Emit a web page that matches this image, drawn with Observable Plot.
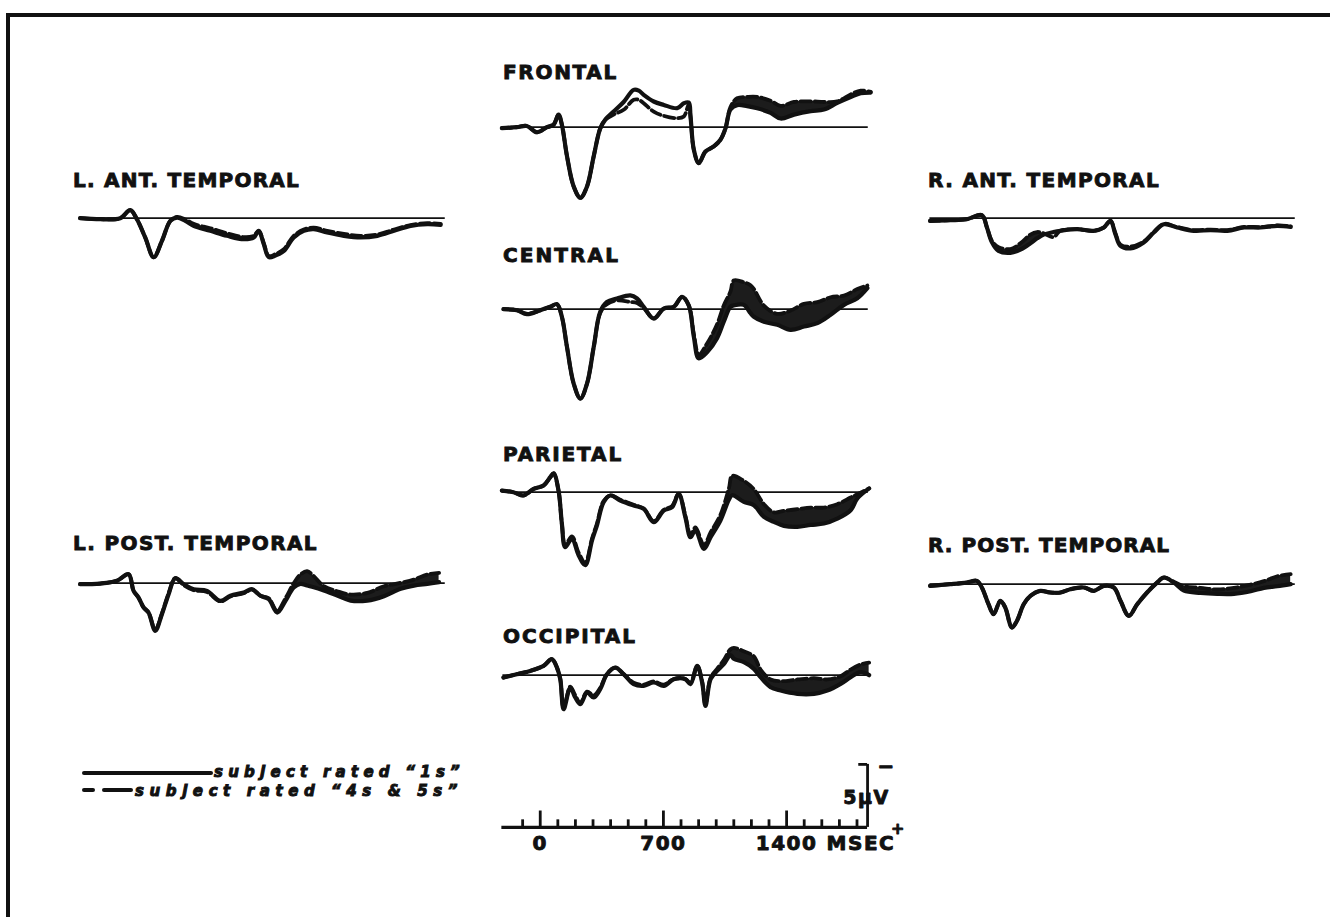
<!DOCTYPE html>
<html><head><meta charset="utf-8">
<script src="https://cdn.jsdelivr.net/npm/d3@7"></script>
<script src="https://cdn.jsdelivr.net/npm/@observablehq/plot@0.6"></script>
<style>
html,body{margin:0;padding:0;background:#fff;overflow:hidden;}
#root{position:relative;width:1330px;height:917px;overflow:hidden;background:#fff;}
.frame{position:absolute;left:6px;top:13px;width:1400px;height:1000px;border-top:4px solid #111;border-left:4px solid #111;}
.title{position:absolute;font-family:"DejaVu Sans",sans-serif;font-weight:bold;font-size:20px;line-height:20px;color:#111;white-space:nowrap;-webkit-text-stroke:0.9px #111;}
.legtext{position:absolute;font-family:"DejaVu Sans",sans-serif;font-weight:bold;font-style:italic;font-size:15px;line-height:14px;color:#111;white-space:nowrap;-webkit-text-stroke:1px #111;}
.bar{position:absolute;background:#111;height:4px;border-radius:2px;}
.panel{position:absolute;}
</style></head><body><div id="root"><div class="frame"></div></div>
<script>
// ---------- data (time in ms, amplitude in microvolts; negative plotted up) ----------
const frontalTime = [-218,-133,-76,-19,38,76,104,123,152,190,228,266,304,341,370,417,474,531,560,588,645,702,778,816,844,854,873,901,939,986,1024,1053,1081,1119,1176,1233,1309,1366,1442,1537,1612,1688,1764,1821,1878];
const frontalRated1 = [0.08,0,-0.1,0.4,0,-0.2,-1.0,-0.2,2.3,4.7,5.6,4.7,2.3,0.1,-0.6,-1.24,-2.0,-2.96,-2.9,-2.57,-2.04,-1.77,-1.51,-1.9,-1.96,-0.85,1.8,2.86,1.93,1.53,1.0,0.08,-1.4,-1.75,-1.67,-1.5,-1.14,-0.69,-1.0,-1.27,-1.4,-1.93,-2.4,-2.7,-2.75];
const frontalRated45 = [0.08,0,-0.1,0.4,0,-0.2,-1.0,-0.2,2.3,4.7,5.6,4.7,2.3,0.1,-0.6,-1.0,-1.38,-2.17,-2.17,-1.9,-1.24,-0.9,-0.71,-0.85,-1.8,-0.85,1.8,2.86,1.93,1.53,1.0,0.08,-1.6,-2.3,-2.4,-2.4,-2.1,-1.7,-2.0,-2.05,-2.0,-2.05,-2.6,-2.9,-2.8];

const centralTime = [-209,-133,-76,0,57,95,123,152,190,228,266,304,341,379,436,512,550,588,645,702,759,806,844,873,901,949,1005,1043,1081,1100,1157,1195,1214,1271,1347,1423,1499,1575,1650,1726,1802,1859];
const centralRated1 = [0,0.08,0.4,0.08,-0.19,-0.4,0.6,3.0,5.9,7.1,5.9,3.0,0.2,-0.58,-0.85,-1.1,-0.85,-0.19,0.74,-0.05,-0.19,-0.98,-0.3,2.2,3.9,3.4,2.3,1.0,-0.2,-0.3,-0.34,0.32,0.6,1.0,1.24,1.64,1.38,1.11,0.45,-0.34,-0.87,-1.67];
const centralRated45 = [0,0.08,0.35,0.1,-0.19,-0.4,0.6,3.0,5.9,7.1,5.9,3.0,0.3,-0.4,-0.7,-0.58,-0.5,-0.1,0.74,-0.05,-0.19,-0.98,-0.3,2.0,3.6,2.7,1.2,-0.3,-1.4,-2.28,-2.14,-1.9,-1.6,-0.29,0.37,0.1,-0.42,-0.56,-0.95,-1.08,-1.6,-1.88];

const parietalTime = [-218,-152,-95,-38,19,57,76,104,123,142,180,218,256,294,322,360,398,455,531,588,645,702,749,787,825,854,882,930,968,1024,1072,1091,1157,1214,1271,1328,1385,1461,1537,1612,1688,1764,1802,1869];
const parietalRated1 = [-0.13,0,0.26,-0.26,-0.53,-1.19,-1.5,-0.13,2.5,4.37,3.7,5.0,5.8,3.84,2.65,0.8,0.26,0.66,1.06,1.32,2.38,1.46,1.19,0.13,2.0,3.57,3.0,4.5,3.57,2.25,0.6,0.24,0.77,1.03,1.96,2.35,2.67,2.75,2.6,2.49,2.1,1.43,0.5,-0.3];
const parietalRated45 = [-0.13,0,0.26,-0.26,-0.53,-1.19,-1.5,-0.13,2.5,4.2,3.5,4.8,5.6,3.7,2.5,0.7,0.26,0.6,1.0,1.3,2.3,1.4,1.1,0.13,1.9,3.4,2.8,4.2,3.2,1.8,-0.3,-1.3,-0.9,-0.24,0.95,1.6,1.48,1.35,1.22,1.22,0.95,0.42,0.16,-0.3];

const occipitalTime = [-209,-133,-57,19,66,95,114,133,171,199,228,266,304,341,379,427,474,531,588,645,702,759,825,854,892,920,939,968,1005,1043,1081,1100,1157,1214,1252,1309,1366,1461,1556,1631,1707,1764,1821,1869];
const occipitalRated1 = [0.19,-0.08,-0.34,-0.74,-1.27,-0.6,0.32,2.7,0.98,1.77,2.3,1.38,1.77,1.1,-0.08,-0.6,-0.08,0.71,0.85,0.58,0.85,0.32,0.32,0.71,-0.74,0.58,2.43,0.32,-0.34,-0.87,-1.6,-1.3,-1.03,-0.5,0.16,0.95,1.22,1.48,1.48,1.22,0.69,0.16,-0.24,0.0];
const occipitalRated45 = [0.19,-0.08,-0.34,-0.74,-1.27,-0.6,0.32,2.6,0.9,1.6,2.2,1.3,1.6,1.0,-0.08,-0.6,-0.08,0.6,0.75,0.5,0.75,0.3,0.3,0.6,-0.74,0.5,2.3,0.2,-0.5,-1.2,-2.06,-2.17,-1.9,-1.5,-0.45,0.34,0.48,0.34,0.24,0.34,0.08,-0.45,-0.85,-1.0];

const lAntTime = [-211,-97,17,74,112,159,207,254,302,340,387,434,529,624,719,776,804,833,861,899,947,1003,1060,1117,1193,1288,1383,1478,1573,1667,1762,1838];
const lAntRated1 = [0,0.08,0,-0.64,0.08,1.53,3.1,1.8,0.21,-0.05,0.21,0.61,1.0,1.4,1.67,1.53,1.0,2.06,3.1,2.96,2.6,1.53,1.0,0.87,1.14,1.4,1.53,1.4,1.0,0.61,0.48,0.53];
const lAntRated45 = [0,0.08,0,-0.64,0.08,1.53,3.1,1.8,0.21,-0.1,0.1,0.45,0.8,1.2,1.5,1.4,1.0,2.0,3.0,2.85,2.45,1.4,0.9,0.75,1.0,1.25,1.4,1.3,0.9,0.55,0.4,0.45];

const lPostTime = [-211,-97,-2,64,93,121,150,178,216,254,292,330,378,434,510,586,643,719,766,814,861,909,956,1003,1041,1079,1117,1174,1250,1326,1421,1516,1611,1686,1762,1829];
const lPostRated1 = [0.08,0.03,-0.19,-0.71,0.61,1.14,1.93,2.33,3.78,2.46,0.87,-0.4,0.08,0.48,0.61,1.4,1.0,0.74,0.48,1.0,1.27,2.33,1.4,0.34,0.05,0.19,0.32,0.58,0.98,1.38,1.38,1.03,0.45,0.19,0.05,-0.08];
const lPostRated45 = [0.08,0.03,-0.19,-0.71,0.61,1.14,1.93,2.33,3.7,2.4,0.8,-0.4,0.15,0.55,0.7,1.45,1.05,0.8,0.5,1.0,1.2,2.2,1.2,0.0,-0.69,-0.95,-0.56,0.24,0.64,0.9,0.77,0.24,-0.03,-0.29,-0.69,-0.82];

const rAntTime = [-211,-97,-2,83,112,140,178,245,302,359,397,434,490,529,624,719,776,814,842,871,928,1003,1060,1117,1193,1288,1383,1478,1573,1667,1762,1838];
const rAntRated1 = [0.21,0.16,0.08,-0.24,0.74,1.9,2.6,2.75,2.5,2.0,1.6,1.3,1.1,1.0,0.87,1.0,0.74,0.21,1.27,2.2,2.4,1.93,1.14,0.48,0.74,1.0,0.95,1.0,0.74,0.74,0.61,0.69];
const rAntRated45 = [0.21,0.16,0.08,-0.24,0.74,1.8,2.3,2.45,2.0,1.3,1.1,1.2,1.5,1.0,0.87,1.0,0.74,0.21,1.2,2.1,2.25,1.85,1.1,0.45,0.7,0.95,0.9,0.95,0.7,0.7,0.58,0.65];

const rPostTime = [-211,-97,-2,55,83,121,150,188,216,254,283,321,359,415,472,529,586,662,719,776,833,871,918,966,1022,1079,1117,1174,1231,1326,1421,1516,1611,1686,1762,1838];
const rPostRated1 = [0.13,0,-0.13,-0.26,0.26,1.59,2.38,1.32,1.85,3.44,2.9,1.59,0.93,0.53,0.66,0.66,0.4,0.26,0.53,0.13,0.26,1.32,2.51,1.59,0.66,-0.13,-0.53,-0.13,0.5,0.69,0.77,0.77,0.56,0.29,0.16,0.0];
const rPostRated45 = [0.13,0,-0.13,-0.26,0.26,1.59,2.38,1.32,1.85,3.44,2.9,1.59,0.93,0.53,0.66,0.66,0.4,0.26,0.53,0.13,0.26,1.32,2.51,1.59,0.66,-0.13,-0.53,-0.2,0.16,0.29,0.42,0.29,0.03,-0.24,-0.63,-0.8];

// time scale
const scaleMinorTicks = [-100,100,200,300,400,500,600,800,900,1000,1100,1200,1300,1500,1600,1700,1800];
const scaleMajorTicks = [0,700,1400];
const scaleTickLabels = ["0","700","1400"];
const scaleUnit = "MSEC";
const calibUv = 5;
const calibLabel = "5\u00b5V";

const legendLabels = ["subject rated \u201c1s\u201d", "subject rated \u201c4s & 5s\u201d"];

// ---------- layout ----------
const pxPerMs = 0.176, pxPerUv = 12.6;
const tDomain = [-220, 1882];
const uvDomain = [-4.5, 8.04];
const zeroExtent = [-212, 1864];
const INK = "#111";
const FONT = "'DejaVu Sans', sans-serif";

const panels = [
  {title:"FRONTAL", time:frontalTime, r1:frontalRated1, r45:frontalRated45, x0:540, zeroY:127, tX:503, tY:62, tW:115},
  {title:"CENTRAL", time:centralTime, r1:centralRated1, r45:centralRated45, x0:540, zeroY:309, tX:503, tY:245, tW:117},
  {title:"PARIETAL", time:parietalTime, r1:parietalRated1, r45:parietalRated45, x0:540, zeroY:491.7, tX:503, tY:444, tW:120},
  {title:"OCCIPITAL", time:occipitalTime, r1:occipitalRated1, r45:occipitalRated45, x0:540, zeroY:674.3, tX:503, tY:626, tW:134},
  {title:"L. ANT. TEMPORAL", time:lAntTime, r1:lAntRated1, r45:lAntRated45, x0:117, zeroY:217.3, tX:73, tY:170, tW:227},
  {title:"L. POST. TEMPORAL", time:lPostTime, r1:lPostRated1, r45:lPostRated45, x0:117, zeroY:582.3, tX:73, tY:533, tW:245},
  {title:"R. ANT. TEMPORAL", time:rAntTime, r1:rAntRated1, r45:rAntRated45, x0:967, zeroY:217.3, tX:928, tY:170, tW:232},
  {title:"R. POST. TEMPORAL", time:rPostTime, r1:rPostRated1, r45:rPostRated45, x0:967, zeroY:583.3, tX:928, tY:535, tW:242}
];

const root = document.getElementById("root");

function place(el, left, top) {
  el.style.left = left + "px";
  el.style.top = top + "px";
  root.appendChild(el);
  return el;
}
function fitText(el, target) {
  el.style.letterSpacing = "0px";
  const w = el.getBoundingClientRect().width;
  const n = el.textContent.length;
  el.style.letterSpacing = ((target - w) / n) + "px";
}

for (const p of panels) {
  const rows = p.time.map((t, i) => ({t, r1: p.r1[i], r45: p.r45[i], upper: Math.min(p.r1[i], p.r45[i])}));
  const W = (tDomain[1] - tDomain[0]) * pxPerMs;
  const H = (uvDomain[1] - uvDomain[0]) * pxPerUv;
  const chart = Plot.plot({
    width: W, height: H, margin: 0,
    x: {domain: tDomain, axis: null},
    y: {domain: uvDomain, reverse: true, axis: null},
    style: {background: "transparent", overflow: "visible"},
    marks: [
      Plot.ruleY([0], {x1: zeroExtent[0], x2: zeroExtent[1], stroke: INK, strokeWidth: 1.8}),
      Plot.areaY(rows, {x: "t", y1: "r1", y2: "upper", fill: "#1c1c1c", curve: "catmull-rom"}),
      Plot.line(rows, {x: "t", y: "r45", stroke: INK, strokeWidth: 3.8, strokeDasharray: "10,4", curve: "catmull-rom", strokeLinecap: "round"}),
      Plot.line(rows, {x: "t", y: "r1", stroke: INK, strokeWidth: 4.2, curve: "catmull-rom", strokeLinecap: "round", strokeLinejoin: "round"})
    ]
  });
  chart.classList.add("panel");
  place(chart, p.x0 + tDomain[0] * pxPerMs, p.zeroY + uvDomain[0] * pxPerUv);

  const t = document.createElement("div");
  t.className = "title";
  t.textContent = p.title;
  place(t, p.tX, p.tY);
  fitText(t, p.tW);
}

// ---------- time / amplitude scale ----------
{
  const sDomainX = [-220, 2100];
  const sDomainY = [-6.5, 3.0];
  const W = (sDomainX[1] - sDomainX[0]) * pxPerMs;
  const H = (sDomainY[1] - sDomainY[0]) * pxPerUv;
  const calibT = 1860;
  const txt = {fontSize: 20, fontWeight: "bold", fill: INK, stroke: INK, strokeWidth: 0.9};
  const chart = Plot.plot({
    width: W, height: H, margin: 0,
    x: {domain: sDomainX, axis: null},
    y: {domain: sDomainY, reverse: true, axis: null},
    style: {background: "transparent", overflow: "visible", fontFamily: FONT, letterSpacing: "1.5px"},
    marks: [
      Plot.ruleY([0], {x1: -218, x2: calibT, stroke: INK, strokeWidth: 3.2}),
      Plot.ruleX(scaleMinorTicks, {y1: 0, y2: -0.6, stroke: INK, strokeWidth: 2.8}),
      Plot.ruleX(scaleMajorTicks, {y1: 0, y2: -1.3, stroke: INK, strokeWidth: 2.8}),
      Plot.text(scaleMajorTicks, {x: d => d, y: 0, text: (d, i) => scaleTickLabels[i], dy: 16, ...txt}),
      Plot.text([scaleUnit], {x: scaleMajorTicks[2], y: 0, text: d => d, dx: 40, dy: 16, textAnchor: "start", ...txt}),
      Plot.ruleX([calibT], {y1: 0, y2: -calibUv, stroke: INK, strokeWidth: 2.8}),
      Plot.ruleY([-calibUv], {x1: calibT - 50, x2: calibT, stroke: INK, strokeWidth: 2.8}),
      Plot.text([calibLabel], {x: calibT, y: -calibUv / 2, text: d => d, dx: -1, dy: 2, ...txt, fontSize: 19}),
      Plot.text(["\u2212"], {x: calibT, y: -calibUv, text: d => d, dx: 19, dy: 2, ...txt}),
      Plot.text(["+"], {x: calibT, y: 0, text: d => d, dx: 31, dy: 1, ...txt, fontSize: 16})
    ]
  });
  chart.classList.add("panel");
  place(chart, 540 + sDomainX[0] * pxPerMs, 827.3 + sDomainY[0] * pxPerUv);
}

// ---------- legend ----------
{
  const b1 = document.createElement("div"); b1.className = "bar"; b1.style.width = "131px";
  place(b1, 82, 771);
  const b2 = document.createElement("div"); b2.className = "bar"; b2.style.width = "13px";
  place(b2, 82, 788);
  const b3 = document.createElement("div"); b3.className = "bar"; b3.style.width = "31px";
  place(b3, 102, 788);
  const l1 = document.createElement("div"); l1.className = "legtext"; l1.textContent = legendLabels[0];
  place(l1, 214, 765); fitText(l1, 251);
  const l2 = document.createElement("div"); l2.className = "legtext"; l2.textContent = legendLabels[1];
  place(l2, 135, 784); fitText(l2, 328);
}
</script></body></html>
